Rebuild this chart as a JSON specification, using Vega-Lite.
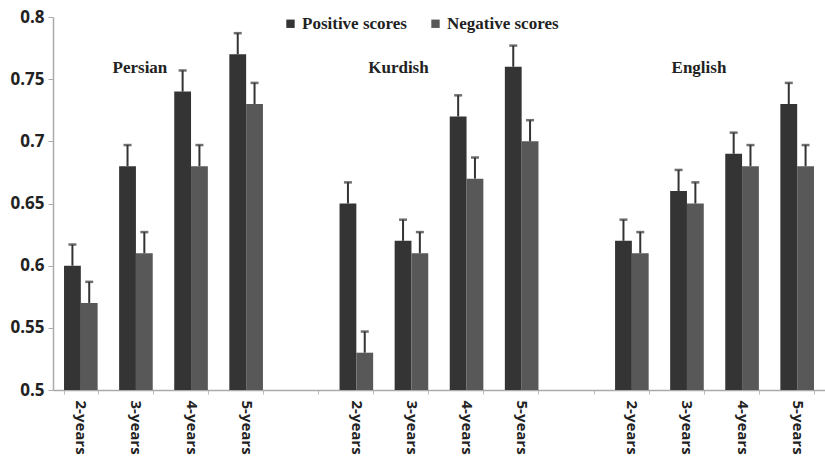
{
  "$schema": "https://vega.github.io/schema/vega-lite/v6.json",
  "width": 772,
  "height": 373,
  "autosize": {"type": "none"},
  "padding": {"left": 53, "top": 17, "right": 0, "bottom": 70},
  "background": "white",
  "config": {"view": {"stroke": null}},
  "datasets": {
    "scores": [
      {"slot": "Persian|2-years", "series": "Positive scores", "value": 0.60, "upper": 0.617},
      {"slot": "Persian|2-years", "series": "Negative scores", "value": 0.57, "upper": 0.587},
      {"slot": "Persian|3-years", "series": "Positive scores", "value": 0.68, "upper": 0.697},
      {"slot": "Persian|3-years", "series": "Negative scores", "value": 0.61, "upper": 0.627},
      {"slot": "Persian|4-years", "series": "Positive scores", "value": 0.74, "upper": 0.757},
      {"slot": "Persian|4-years", "series": "Negative scores", "value": 0.68, "upper": 0.697},
      {"slot": "Persian|5-years", "series": "Positive scores", "value": 0.77, "upper": 0.787},
      {"slot": "Persian|5-years", "series": "Negative scores", "value": 0.73, "upper": 0.747},
      {"slot": "Kurdish|2-years", "series": "Positive scores", "value": 0.65, "upper": 0.667},
      {"slot": "Kurdish|2-years", "series": "Negative scores", "value": 0.53, "upper": 0.547},
      {"slot": "Kurdish|3-years", "series": "Positive scores", "value": 0.62, "upper": 0.637},
      {"slot": "Kurdish|3-years", "series": "Negative scores", "value": 0.61, "upper": 0.627},
      {"slot": "Kurdish|4-years", "series": "Positive scores", "value": 0.72, "upper": 0.737},
      {"slot": "Kurdish|4-years", "series": "Negative scores", "value": 0.67, "upper": 0.687},
      {"slot": "Kurdish|5-years", "series": "Positive scores", "value": 0.76, "upper": 0.777},
      {"slot": "Kurdish|5-years", "series": "Negative scores", "value": 0.70, "upper": 0.717},
      {"slot": "English|2-years", "series": "Positive scores", "value": 0.62, "upper": 0.637},
      {"slot": "English|2-years", "series": "Negative scores", "value": 0.61, "upper": 0.627},
      {"slot": "English|3-years", "series": "Positive scores", "value": 0.66, "upper": 0.677},
      {"slot": "English|3-years", "series": "Negative scores", "value": 0.65, "upper": 0.667},
      {"slot": "English|4-years", "series": "Positive scores", "value": 0.69, "upper": 0.707},
      {"slot": "English|4-years", "series": "Negative scores", "value": 0.68, "upper": 0.697},
      {"slot": "English|5-years", "series": "Positive scores", "value": 0.73, "upper": 0.747},
      {"slot": "English|5-years", "series": "Negative scores", "value": 0.68, "upper": 0.697}
    ],
    "groups": [
      {"slot": "Persian|3-years", "label": "Persian", "y": 0.759},
      {"slot": "Kurdish|3-years", "label": "Kurdish", "y": 0.759},
      {"slot": "English|3-years", "label": "English", "y": 0.759}
    ]
  },
  "encoding": {
    "x": {
      "field": "slot",
      "type": "nominal",
      "sort": null,
      "scale": {
        "domain": ["Persian|2-years", "Persian|3-years", "Persian|4-years", "Persian|5-years", "gap1",
                   "Kurdish|2-years", "Kurdish|3-years", "Kurdish|4-years", "Kurdish|5-years", "gap2",
                   "English|2-years", "English|3-years", "English|4-years", "English|5-years"],
        "paddingInner": 0.39,
        "paddingOuter": 0.2
      },
      "axis": {
        "title": null,
        "labelExpr": "indexof(datum.label, '|') >= 0 ? split(datum.label, '|')[1] : ''",
        "labelAngle": 90,
        "labelAlign": "left",
        "labelBaseline": "middle",
        "labelFont": "Open Sans",
        "labelFontWeight": 700,
        "labelFontSize": 15,
        "labelColor": "#222",
        "labelPadding": 6,
        "tickBand": "extent",
        "tickColor": "#bbb",
        "tickSize": 4,
        "domainColor": "#aaa",
        "domainWidth": 1.5
      }
    }
  },
  "layer": [
    {
      "data": {"name": "scores"},
      "mark": {"type": "bar"},
      "encoding": {
        "xOffset": {"field": "series", "type": "nominal", "scale": {"domain": ["Positive scores", "Negative scores"], "paddingInner": 0}},
        "y": {
          "field": "value",
          "type": "quantitative",
          "scale": {"domain": [0.5, 0.8], "zero": false, "nice": false},
          "axis": {
            "title": null,
            "values": [0.5, 0.55, 0.6, 0.65, 0.7, 0.75, 0.8],
            "format": ".2~f",
            "grid": false,
            "labelFont": "Open Sans",
            "labelFontWeight": 700,
            "labelFontSize": 17,
            "labelColor": "#222",
            "labelPadding": 4,
            "tickColor": "#aaa",
            "tickSize": 5,
            "domainColor": "#aaa",
            "domainWidth": 1.5
          }
        },
        "y2": {"datum": 0.5},
        "color": {
          "field": "series",
          "type": "nominal",
          "scale": {"domain": ["Positive scores", "Negative scores"], "range": ["#343434", "#585858"]},
          "legend": {
            "title": null,
            "orient": "none",
            "direction": "horizontal",
            "legendX": 229,
            "legendY": -2,
            "symbolType": "square",
            "symbolSize": 70,
            "symbolStrokeWidth": 0,
            "labelFont": "Liberation Serif",
            "labelFontWeight": "bold",
            "labelFontSize": 17,
            "labelColor": "#222",
            "labelOffset": 3,
            "columnPadding": 20
          }
        }
      }
    },
    {
      "data": {"name": "scores"},
      "mark": {"type": "rule", "color": "#333", "strokeWidth": 2},
      "encoding": {
        "xOffset": {"field": "series", "type": "nominal", "scale": {"domain": ["Positive scores", "Negative scores"], "paddingInner": 0}},
        "y": {"field": "value", "type": "quantitative"},
        "y2": {"field": "upper"}
      }
    },
    {
      "data": {"name": "scores"},
      "mark": {"type": "tick", "color": "#333", "size": 8, "thickness": 2.5, "orient": "horizontal"},
      "encoding": {
        "xOffset": {"field": "series", "type": "nominal", "scale": {"domain": ["Positive scores", "Negative scores"], "paddingInner": 0}},
        "y": {"field": "upper", "type": "quantitative"}
      }
    },
    {
      "data": {"name": "groups"},
      "transform": [{"filter": "datum.label == 'Persian'"}],
      "mark": {"type": "text", "font": "Liberation Serif", "fontWeight": "bold", "fontSize": 17, "color": "#222", "dx": 4, "baseline": "middle"},
      "encoding": {"y": {"field": "y", "type": "quantitative"}, "text": {"field": "label"}}
    },
    {
      "data": {"name": "groups"},
      "transform": [{"filter": "datum.label == 'Kurdish'"}],
      "mark": {"type": "text", "font": "Liberation Serif", "fontWeight": "bold", "fontSize": 17, "color": "#222", "dx": -13, "baseline": "middle"},
      "encoding": {"y": {"field": "y", "type": "quantitative"}, "text": {"field": "label"}}
    },
    {
      "data": {"name": "groups"},
      "transform": [{"filter": "datum.label == 'English'"}],
      "mark": {"type": "text", "font": "Liberation Serif", "fontWeight": "bold", "fontSize": 17, "color": "#222", "dx": 12, "baseline": "middle"},
      "encoding": {"y": {"field": "y", "type": "quantitative"}, "text": {"field": "label"}}
    }
  ]
}
